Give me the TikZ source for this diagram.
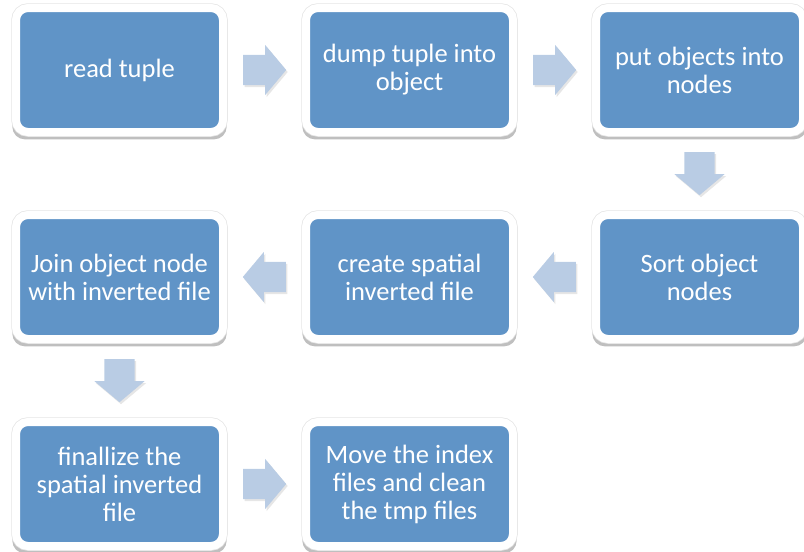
\documentclass[tikz,border=0pt]{standalone}
\usepackage{fontspec}
\setmainfont{Carlito}
\usepackage{tikz}
\usepackage{xcolor}
\usetikzlibrary{positioning,calc,shapes.arrows,shadows}

\definecolor{boxblue}{RGB}{96,148,199}
\definecolor{arrowblue}{RGB}{185,204,228}

\begin{document}
\begin{tikzpicture}[
    node distance=75pt,
    stepbox/.style={rectangle, rounded corners=12pt, fill=boxblue, draw=white, line width=8pt,
        minimum width=207pt, minimum height=124pt, inner sep=0pt, align=center, text=white,
        font=\fontsize{26.5pt}{28pt}\selectfont,
        general shadow={fill=black, opacity=.25, shadow yshift=-5pt, shadow scale=1.035},
        preaction={draw=black!10, line width=9.5pt}},
    flow/.style={single arrow, fill=arrowblue, draw=none, minimum height=43pt, minimum width=50pt,
        single arrow head extend=10pt, single arrow tip angle=100, anchor=tail,
        drop shadow={shadow xshift=1.5pt, shadow yshift=-2pt, opacity=.2}},
    rflow/.style={flow, inner xsep=0pt, inner ysep=15pt, xshift=-21.5pt},
    lflow/.style={flow, inner xsep=0pt, inner ysep=15pt, shape border rotate=180, xshift=21.5pt},
    dflow/.style={flow, inner xsep=15pt, inner ysep=0pt, shape border rotate=270, yshift=21.5pt}
]
    \useasboundingbox (0,0) rectangle (804pt,-552pt);

    % Place nodes
    \node[stepbox] (read) at (119.5pt,-70pt) {read tuple};
    \node[stepbox, right=of read] (dump) {dump tuple into\\object};
    \node[stepbox, right=of dump] (put) {put objects into\\nodes};
    \node[stepbox, below=of put] (sort) {Sort object\\nodes};
    \node[stepbox, left=of sort] (create) {create spatial\\inverted file};
    \node[stepbox, left=of create] (join) {Join object node\\with inverted file};
    \node[stepbox, below=of join] (finalize) {finallize the\\spatial inverted\\file};
    \node[stepbox, right=of finalize] (move) {Move the index\\files and clean\\the tmp files};

    % Add connections
    \node[rflow] (a1) at ($(read.east)!0.5!(dump.west)$) {};
    \node[rflow] (a2) at ($(dump.east)!0.5!(put.west)$) {};
    \node[dflow] (a3) at ($(put.south)!0.5!(sort.north)$) {};
    \node[lflow] (a4) at ($(sort.west)!0.5!(create.east)$) {};
    \node[lflow] (a5) at ($(create.west)!0.5!(join.east)$) {};
    \node[dflow] (a6) at ($(join.south)!0.5!(finalize.north)$) {};
    \node[rflow] (a7) at ($(finalize.east)!0.5!(move.west)$) {};
\end{tikzpicture}
\end{document}
